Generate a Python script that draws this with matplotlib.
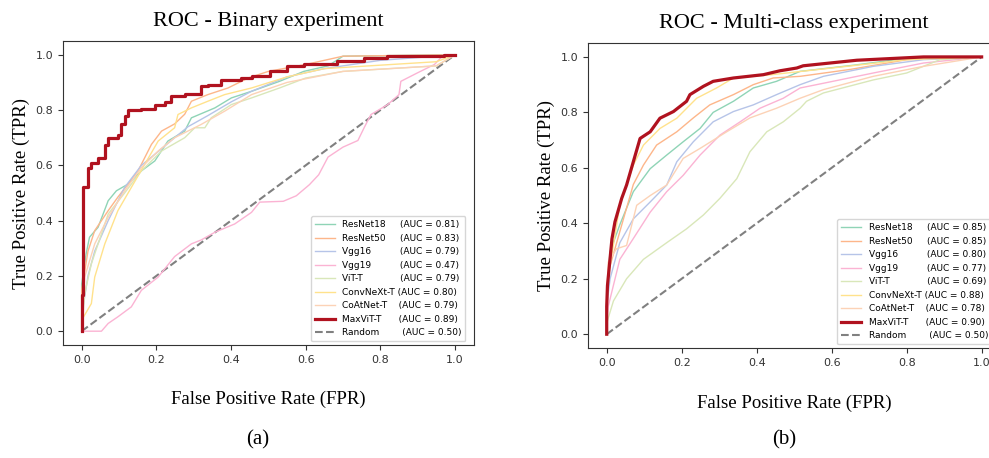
import numpy as np
import matplotlib
matplotlib.use("Agg")
import matplotlib.pyplot as plt

# ---------------------------------------------------------------------------
# Data
# ---------------------------------------------------------------------------
models = ["ResNet18", "ResNet50", "Vgg16", "Vgg19", "ViT-T",
          "ConvNeXt-T", "CoAtNet-T", "MaxViT-T"]
label_gap = [5, 5, 10, 10, 13, 1, 4, 6]   # spaces between name and AUC
random_gap = 8
colors = ["#8fd4b6", "#fdb68a", "#b6c4e8", "#fbb3d3", "#d9e7b9",
          "#ffe28c", "#fcd2b6", "#b0121f"]

auc_binary = [0.81, 0.83, 0.79, 0.47, 0.79, 0.80, 0.79, 0.89]
auc_multi = [0.85, 0.85, 0.80, 0.77, 0.69, 0.88, 0.78, 0.90]

# binary experiment
fpr_bin = {
    "ResNet18": [0, 0, 0.012, 0.021, 0.044, 0.071, 0.093, 0.124, 0.16, 0.196, 0.231,
                 0.276, 0.294, 0.357, 0.401, 0.455, 0.53, 0.595, 0.66, 0.70, 1.0],
    "ResNet50": [0, 0, 0.017, 0.035, 0.071, 0.097, 0.124, 0.151, 0.187, 0.214, 0.249,
                 0.276, 0.294, 0.338, 0.392, 0.446, 0.5, 0.6, 0.7, 1.0],
    "Vgg16": [0, 0.004, 0.017, 0.035, 0.071, 0.115, 0.16, 0.205, 0.249, 0.285, 0.338,
              0.401, 0.455, 0.55, 0.65, 0.8, 1.0],
    "Vgg19": [0, 0.053, 0.071, 0.097, 0.133, 0.16, 0.205, 0.249, 0.294, 0.32, 0.357,
              0.41, 0.455, 0.477, 0.54, 0.575, 0.61, 0.635, 0.66, 0.70, 0.74, 0.757,
              0.775, 0.82, 0.85, 0.855, 0.90, 0.945, 0.97, 1.0],
    "ViT-T": [0, 0.008, 0.026, 0.071, 0.115, 0.16, 0.214, 0.276, 0.303, 0.33, 0.347,
              0.401, 0.455, 0.53, 0.6, 0.7, 0.95, 1.0],
    "ConvNeXt-T": [0, 0.0, 0.026, 0.035, 0.062, 0.097, 0.133, 0.169, 0.205, 0.249,
                   0.258, 0.294, 0.338, 0.383, 0.455, 0.55, 0.65, 0.95, 1.0],
    "CoAtNet-T": [0, 0.008, 0.035, 0.071, 0.115, 0.16, 0.205, 0.249, 0.32, 0.383,
                  0.455, 0.55, 0.7, 0.95, 1.0],
    "MaxViT-T": [0, 0, 0.004, 0.004, 0.017, 0.026, 0.044, 0.062, 0.07, 0.097, 0.106,
                 0.115, 0.124, 0.16, 0.196, 0.222, 0.24, 0.276, 0.32, 0.338, 0.374,
                 0.428, 0.455, 0.504, 0.55, 0.595, 0.684, 0.755, 0.817, 0.97, 1.0],
}
tpr_bin = {
    "ResNet18": [0, 0.17, 0.28, 0.34, 0.376, 0.472, 0.508, 0.532, 0.58, 0.616, 0.688,
                 0.724, 0.772, 0.808, 0.844, 0.868, 0.904, 0.94, 0.96, 0.995, 1.0],
    "ResNet50": [0, 0.15, 0.29, 0.364, 0.436, 0.485, 0.532, 0.58, 0.676, 0.724, 0.75,
                 0.785, 0.832, 0.856, 0.88, 0.916, 0.94, 0.965, 0.995, 1.0],
    "Vgg16": [0, 0.09, 0.2, 0.29, 0.4, 0.52, 0.6, 0.65, 0.7, 0.74, 0.78,
              0.83, 0.868, 0.92, 0.95, 0.98, 1.0],
    "Vgg19": [0, 0.0, 0.028, 0.052, 0.088, 0.148, 0.196, 0.27, 0.316, 0.33, 0.358,
              0.388, 0.43, 0.467, 0.47, 0.49, 0.53, 0.566, 0.63, 0.666, 0.69, 0.737,
              0.784, 0.82, 0.856, 0.904, 0.935, 0.965, 1.0, 1.0],
    "ViT-T": [0, 0.136, 0.244, 0.424, 0.5, 0.58, 0.652, 0.70, 0.736, 0.736, 0.772,
              0.82, 0.844, 0.88, 0.916, 0.94, 0.96, 1.0],
    "ConvNeXt-T": [0, 0.04, 0.1, 0.196, 0.316, 0.436, 0.52, 0.604, 0.688, 0.736,
                   0.784, 0.808, 0.832, 0.856, 0.88, 0.92, 0.95, 0.975, 1.0],
    "CoAtNet-T": [0, 0.196, 0.316, 0.412, 0.508, 0.592, 0.652, 0.70, 0.748, 0.796,
                  0.856, 0.9, 0.94, 0.96, 1.0],
    "MaxViT-T": [0, 0.13, 0.45, 0.52, 0.59, 0.61, 0.625, 0.675, 0.70, 0.71, 0.748,
                 0.78, 0.80, 0.805, 0.82, 0.83, 0.85, 0.86, 0.886, 0.89, 0.91,
                 0.915, 0.925, 0.94, 0.958, 0.965, 0.976, 0.988, 0.994, 1.0, 1.0],
}

# multi-class experiment
fpr_multi = {
    "ResNet18": [0, 0.0, 0.009, 0.035, 0.071, 0.116, 0.16, 0.204, 0.249, 0.284, 0.338,
                 0.391, 0.453, 0.516, 0.658, 0.8, 1.0],
    "ResNet50": [0, 0.0, 0.004, 0.035, 0.071, 0.098, 0.133, 0.187, 0.231, 0.275, 0.338,
                 0.391, 0.444, 0.516, 0.65, 0.8, 1.0],
    "Vgg16": [0, 0.0, 0.009, 0.035, 0.071, 0.116, 0.16, 0.187, 0.231, 0.284, 0.338,
              0.391, 0.453, 0.516, 0.578, 0.711, 0.845, 1.0],
    "Vgg19": [0, 0.0, 0.004, 0.035, 0.071, 0.116, 0.16, 0.204, 0.249, 0.302, 0.356,
              0.409, 0.471, 0.516, 0.578, 0.711, 0.845, 1.0],
    "ViT-T": [0, 0.0, 0.018, 0.053, 0.098, 0.16, 0.213, 0.258, 0.302, 0.347, 0.382,
              0.427, 0.471, 0.516, 0.533, 0.578, 0.711, 0.8, 0.889, 1.0],
    "ConvNeXt-T": [0, 0.0, 0.002, 0.035, 0.071, 0.098, 0.142, 0.187, 0.24, 0.293,
                   0.338, 0.427, 0.6, 0.8, 1.0],
    "CoAtNet-T": [0, 0.0, 0.004, 0.026, 0.053, 0.08, 0.116, 0.16, 0.204, 0.249, 0.32,
                  0.382, 0.453, 0.516, 0.578, 0.711, 0.845, 1.0],
    "MaxViT-T": [0, 0.0, 0.002, 0.014, 0.022, 0.04, 0.053, 0.071, 0.089, 0.116, 0.142,
                 0.178, 0.213, 0.222, 0.258, 0.284, 0.338, 0.418, 0.462, 0.507, 0.524,
                 0.667, 0.845, 0.995, 1.0],
}
tpr_multi = {
    "ResNet18": [0, 0.15, 0.298, 0.395, 0.514, 0.597, 0.646, 0.694, 0.742, 0.80, 0.84,
                 0.888, 0.912, 0.948, 0.97, 0.995, 1.0],
    "ResNet50": [0, 0.12, 0.223, 0.37, 0.54, 0.61, 0.682, 0.73, 0.78, 0.827, 0.864,
                 0.9, 0.924, 0.93, 0.955, 0.99, 1.0],
    "Vgg16": [0, 0.1, 0.2, 0.33, 0.416, 0.477, 0.538, 0.622, 0.694, 0.766, 0.803,
              0.827, 0.864, 0.9, 0.93, 0.966, 0.99, 1.0],
    "Vgg19": [0, 0.05, 0.1, 0.27, 0.345, 0.44, 0.514, 0.573, 0.646, 0.718, 0.766,
              0.815, 0.851, 0.888, 0.905, 0.942, 0.978, 1.0],
    "ViT-T": [0, 0.04, 0.12, 0.2, 0.27, 0.33, 0.38, 0.43, 0.49, 0.561, 0.658,
              0.73, 0.766, 0.815, 0.84, 0.87, 0.917, 0.942, 0.99, 1.0],
    "ConvNeXt-T": [0, 0.1, 0.19, 0.465, 0.61, 0.682, 0.742, 0.779, 0.851, 0.888,
                   0.924, 0.934, 0.96, 0.99, 1.0],
    "CoAtNet-T": [0, 0.12, 0.26, 0.308, 0.32, 0.465, 0.5, 0.538, 0.634, 0.67, 0.73,
                  0.78, 0.815, 0.851, 0.882, 0.93, 0.966, 1.0],
    "MaxViT-T": [0, 0.1, 0.175, 0.344, 0.405, 0.49, 0.538, 0.622, 0.706, 0.73, 0.779,
                 0.803, 0.84, 0.864, 0.894, 0.912, 0.924, 0.936, 0.95, 0.96, 0.968,
                 0.988, 1.0, 1.0, 1.0],
}

titles = ["ROC - Binary experiment", "ROC - Multi-class experiment"]
sub_labels = ["(a)", "(b)"]

# ---------------------------------------------------------------------------
# Figure
# ---------------------------------------------------------------------------
SERIF = "Liberation Serif"
fig = plt.figure(figsize=(9.89, 4.58), dpi=100, facecolor="white")

ax_l = fig.add_axes([0.0637, 0.2467, 0.4152, 0.6638])
ax_r = fig.add_axes([0.5945, 0.2400, 0.4170, 0.6660])

panels = [
    (ax_l, fpr_bin, tpr_bin, auc_binary, True),
    (ax_r, fpr_multi, tpr_multi, auc_multi, False),
]

for i, (ax, fpr_d, tpr_d, aucs, binary) in enumerate(panels):
    for name, gap, col, auc in zip(models, label_gap, colors, aucs):
        is_best = name == "MaxViT-T"
        # the best model in the binary plot is a clear staircase
        dstyle = "steps-post" if (binary and is_best) else "default"
        ax.plot(fpr_d[name], tpr_d[name], color=col,
                lw=2.3 if is_best else 1.0, drawstyle=dstyle,
                zorder=5 if is_best else 3,
                label=name + " " * gap + f"(AUC = {auc:.2f})")
    ax.plot([0, 1], [0, 1], color="#808080", lw=1.5, ls="--",
            label="Random" + " " * random_gap + "(AUC = 0.50)", zorder=2)

    ax.set_xlim(-0.05, 1.05)
    ax.set_ylim(-0.05, 1.05)
    ax.set_xticks(np.arange(0, 1.01, 0.2))
    ax.set_yticks(np.arange(0, 1.01, 0.2))
    ax.tick_params(labelsize=8, colors="#333333")
    for sp in ax.spines.values():
        sp.set_color("#333333")

    ax.set_title(titles[i], fontsize=16, family=SERIF, pad=11)
    ax.set_xlabel("False Positive Rate (FPR)", fontsize=13.5, family=SERIF,
                  labelpad=19)
    ax.set_ylabel("True Positive Rate (TPR)", fontsize=13.5, family=SERIF,
                  labelpad=4)

    ax.legend(loc="lower right", bbox_to_anchor=(0.98, 0.012),
              borderaxespad=0, fontsize=6.5, labelspacing=0.5,
              handlelength=2.2, handletextpad=0.8, borderpad=0.45)

fig.text(258 / 989, 1 - 440 / 458, sub_labels[0], fontsize=15, family=SERIF,
         ha="center", va="center")
fig.text(784 / 989, 1 - 440 / 458, sub_labels[1], fontsize=15, family=SERIF,
         ha="center", va="center")

fig.savefig("out.png", dpi=100, facecolor="white")
